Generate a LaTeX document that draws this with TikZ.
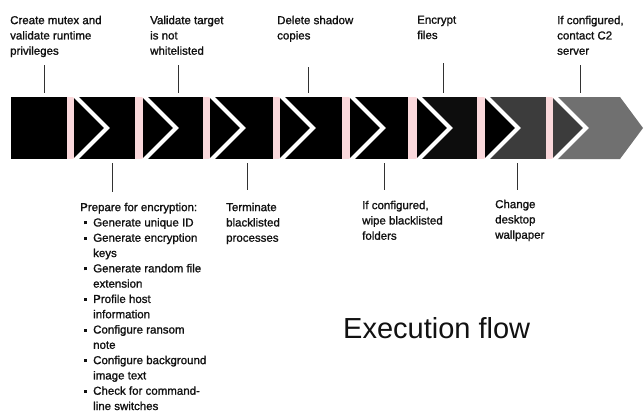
\documentclass[tikz,border=0pt]{standalone}
\usepackage{fontspec}
\setmainfont{Liberation Sans}
\newfontfamily\lblfont{Liberation Sans}[BoldFont={Liberation Sans},BoldFeatures={FakeBold=1.3}]
\definecolor{pinkstrip}{RGB}{250,216,219}
\definecolor{segdark}{RGB}{60,60,60}
\definecolor{seggray}{RGB}{112,112,112}
\definecolor{txt}{RGB}{17,17,17}
\definecolor{callout}{RGB}{50,50,50}
\newcommand{\bitem}[1]{\hspace*{3.5pt}\rule[2pt]{3pt}{3pt}\hspace*{6.5pt}#1}
\newcommand{\bcont}[1]{\hspace*{13pt}#1}
\begin{document}
\begin{tikzpicture}[x=1pt,y=-1pt,
  lbl/.style={anchor=north west,inner sep=0pt,align=left,text=txt,
    font=\lblfont\bfseries\fontsize{11.5}{15.3}\selectfont},
  calline/.style={draw=callout,line width=0.9pt},
  chev/.style={draw=white,line width=4pt,line join=miter}]
\useasboundingbox (0,0) rectangle (644,412);
% band segments
\fill[black] (11,97) rectangle (67,159);
\fill[black] (74,97) rectangle (135,159);
\fill[black] (143,97) rectangle (203,159);
\fill[black] (210,97) rectangle (273,159);
\fill[black] (280,97) rectangle (342,159);
\fill[black] (350,97) rectangle (408,159);
\fill[black!95!white] (417,97) rectangle (477,159);
\fill[segdark] (485,97) rectangle (546,159);
\fill[seggray] (553,97) -- (620,97) -- (643,128) -- (620,159) -- (553,159) -- cycle;
% pink strips
\foreach \a/\b in {67/74,135/143,203/210,273/280,342/350,408/417,477/485,546/553}
  \fill[pinkstrip] (\a,97) rectangle (\b,159);
% chevrons
\begin{scope}
\clip (0,97) rectangle (644,159);
\foreach \x/\c in {74/black,143/black,210/black,280/black,350/black,417/black,485/black,553/segdark}{
  \fill[\c] (\x,97) -- (\x+33,128) -- (\x,159) -- cycle;
  \draw[chev] (\x,95) -- (\x+33,128) -- (\x,161);
}
\end{scope}
% top labels
\node[lbl] (l1) at (10,15.6) {Create mutex and\\validate runtime\\privileges};
\node[lbl] (l3) at (150,15.6) {Validate target\\is not\\whitelisted};
\node[lbl] (l5) at (277,15.6) {Delete shadow\\copies};
\node[lbl] (l7) at (417,15.6) {Encrypt\\files};
\node[lbl] (l9) at (557,15.6) {If configured,\\contact C2\\server};
% bottom labels
\node[lbl] (l2) at (80,202.6) {Prepare for encryption:\\
\bitem{Generate unique ID}\\
\bitem{Generate encryption}\\
\bcont{keys}\\
\bitem{Generate random file}\\
\bcont{extension}\\
\bitem{Profile host}\\
\bcont{information}\\
\bitem{Configure ransom}\\
\bcont{note}\\
\bitem{Configure background}\\
\bcont{image text}\\
\bitem{Check for command-}\\
\bcont{line switches}};
\node[lbl] (l4) at (226,202.6) {Terminate\\blacklisted\\processes};
\node[lbl] (l6) at (362,200.6) {If configured,\\wipe blacklisted\\folders};
\node[lbl] (l8) at (495,199.6) {Change\\desktop\\wallpaper};
% callout coordinates
\coordinate (t1) at (44,65);  \coordinate (s1) at (44,93);
\coordinate (t3) at (178,65); \coordinate (s3) at (178,93);
\coordinate (t5) at (308,67); \coordinate (s5) at (308,93);
\coordinate (t7) at (443,63); \coordinate (s7) at (443,93);
\coordinate (t9) at (580,65); \coordinate (s9) at (580,93);
\coordinate (s2) at (112,163); \coordinate (b2) at (112,192);
\coordinate (s4) at (247,163); \coordinate (b4) at (247,190);
\coordinate (s6) at (384,163); \coordinate (b6) at (384,190);
\coordinate (s8) at (517,163); \coordinate (b8) at (517,190);
\foreach \p/\q in {t1/s1,t3/s3,t5/s5,t7/s7,t9/s9,s2/b2,s4/b4,s6/b6,s8/b8}
  \draw[calline] (\p) -- (\q);
% title
\node[anchor=base west,inner sep=0pt,text=txt,font=\fontsize{29}{34}\selectfont] (title) at (343,338) {Execution flow};
\end{tikzpicture}
\end{document}
